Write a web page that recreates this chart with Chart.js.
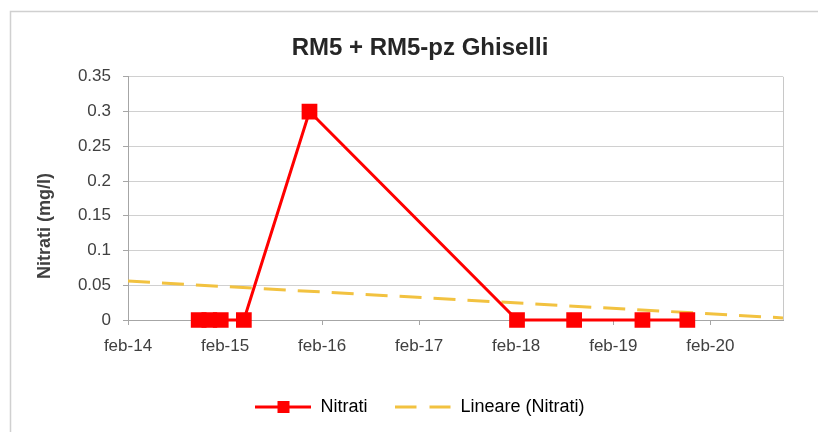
<!DOCTYPE html>
<html>
<head>
<meta charset="utf-8">
<script src="https://cdn.jsdelivr.net/npm/chart.js@4.4.1/dist/chart.umd.min.js"></script>
<style>
  html, body { margin: 0; padding: 0; background: #fff; }
  canvas { display: block; }
</style>
</head>
<body>
<canvas id="nitrati_chart" width="818" height="432"></canvas>
<script>
// sample dates and nitrate values (mg/l)
const sampleDates = ['2014-10-25', '2014-12-04', '2015-01-16', '2015-04-13', '2015-12-16',
                     '2018-02-04', '2018-09-07', '2019-05-22', '2019-11-07']
const nitrati = [0, 0, 0, 0, 0.3, 0, 0, 0, 0]

// linear trend line (Lineare (Nitrati)), ends
const trendDates = ['2014-02-01', '2020-11-01']
const trendValues = [0.056, 0.003]

const xTickLabels = ['feb-14', 'feb-15', 'feb-16', 'feb-17', 'feb-18', 'feb-19', 'feb-20']
const axisStart = '2014-02-01'
const axisEnd = '2020-11-01'

// months elapsed since feb 2014
function monthsFromStart(d) {
    var t = Date.parse(d + 'T00:00:00Z')
    return (t - Date.parse(axisStart + 'T00:00:00Z')) / 86400000 / 30.4375
}

function toPoints(dates, values) {
    return dates.map(function (d, i) {
        return { x: monthsFromStart(d), y: values[i] }
    })
}

/** legend icons (line + marker) **/
function legendIcon(kind) {
    var c = document.createElement('canvas')
    c.width = 56
    c.height = 14
    var g = c.getContext('2d')
    g.lineWidth = 3
    if (kind === 'red') {
        g.strokeStyle = '#ff0000'
        g.beginPath(); g.moveTo(0, 7); g.lineTo(56, 7); g.stroke()
        g.fillStyle = '#ff0000'
        g.fillRect(22, 1, 12, 12)
    } else {
        g.strokeStyle = '#f2c240'
        g.setLineDash([21, 13])
        g.beginPath(); g.moveTo(0, 7); g.lineTo(56, 7); g.stroke()
    }
    return c
}

const frame = {
    id: 'frame',
    beforeDraw(chart) {
        var ctx = chart.ctx
        ctx.save()
        ctx.fillStyle = '#fff'
        ctx.fillRect(0, 0, chart.width, chart.height)
        ctx.strokeStyle = '#d0d0d0'
        ctx.lineWidth = 1.5
        ctx.strokeRect(10.5, 11.5, 900, 600)
        ctx.restore()
    },
    beforeDatasetsDraw(chart) {
        var ctx = chart.ctx
        var a = chart.chartArea
        ctx.save()
        // right edge of plot area
        ctx.strokeStyle = '#c8c8c8'
        ctx.lineWidth = 1
        ctx.beginPath()
        ctx.moveTo(Math.round(a.right) + 0.5, a.top)
        ctx.lineTo(Math.round(a.right) + 0.5, a.bottom)
        ctx.stroke()
        ctx.restore()
    },
    afterDraw(chart) {
        var ctx = chart.ctx
        ctx.save()
        // y axis title
        ctx.translate(45, 226)
        ctx.rotate(-Math.PI / 2)
        ctx.fillStyle = '#404040'
        ctx.font = 'bold 18px "Liberation Sans", Arial, sans-serif'
        ctx.textAlign = 'center'
        ctx.textBaseline = 'middle'
        ctx.fillText('Nitrati (mg/l)', 0, 0)
        ctx.restore()
    }
}

Chart.defaults.font.family = '"Liberation Sans", Arial, sans-serif'
Chart.defaults.color = '#404040'

var nitrati_chart = new Chart(
    document.getElementById('nitrati_chart').getContext('2d'),
    {
        type: 'scatter',
        plugins: [frame],
        data: {
            datasets: [{
                label: 'Nitrati',
                data: toPoints(sampleDates, nitrati),
                showLine: true,
                clip: false,
                borderColor: '#ff0000',
                backgroundColor: '#ff0000',
                borderWidth: 3,
                pointStyle: 'rect',
                pointRadius: 9,
                pointHoverRadius: 9,
                order: 1,
            },
            {
                label: 'Lineare (Nitrati)',
                data: toPoints(trendDates, trendValues),
                showLine: true,
                borderColor: '#f2c240',
                borderWidth: 3,
                borderDash: [22, 12],
                pointRadius: 0,
                order: 2,
            }]
        },
        options: {
            responsive: false,
            animation: false,
            devicePixelRatio: 1,
            layout: {
                padding: { left: 57, right: 35, top: 0, bottom: 6 }
            },
            plugins: {
                title: {
                    display: true,
                    text: 'RM5 + RM5-pz Ghiselli',
                    color: '#262626',
                    font: { size: 24, weight: 'bold' },
                    padding: { top: 34, bottom: 14 },
                },
                legend: {
                    position: 'bottom',
                    labels: {
                        usePointStyle: true,
                        pointStyleWidth: 56,
                        padding: 28,
                        font: { size: 18 },
                        color: '#404040',
                        generateLabels: function () {
                            return [
                                { text: 'Nitrati', pointStyle: legendIcon('red'), hidden: false, datasetIndex: 0, lineWidth: 0 },
                                { text: 'Lineare (Nitrati)', pointStyle: legendIcon('yellow'), hidden: false, datasetIndex: 1, lineWidth: 0 },
                            ]
                        }
                    }
                },
                tooltip: { enabled: false },
            },
            scales: {
                x: {
                    type: 'linear',
                    min: 0,
                    max: monthsFromStart(axisEnd),
                    afterFit: function (scale) { scale.height = 50 },
                    grid: { drawOnChartArea: false, tickLength: 5, color: '#a6a6a6' },
                    border: { color: '#a6a6a6' },
                    ticks: {
                        stepSize: 12,
                        includeBounds: false,
                        padding: 11,
                        maxRotation: 0,
                        font: { size: 17 },
                        callback: function (v) { return xTickLabels[Math.round(v / 12)] },
                    },
                },
                y: {
                    min: 0,
                    max: 0.35,
                    afterFit: function (scale) { scale.width = 71 },
                    grid: { color: '#d0d0d0', tickLength: 5, tickColor: '#a6a6a6' },
                    border: { color: '#a6a6a6' },
                    ticks: {
                        stepSize: 0.05,
                        padding: 12,
                        font: { size: 17 },
                        callback: function (v) { return String(+v.toFixed(2)) },
                    },
                }
            },
        }
    }
);
</script>
</body>
</html>
